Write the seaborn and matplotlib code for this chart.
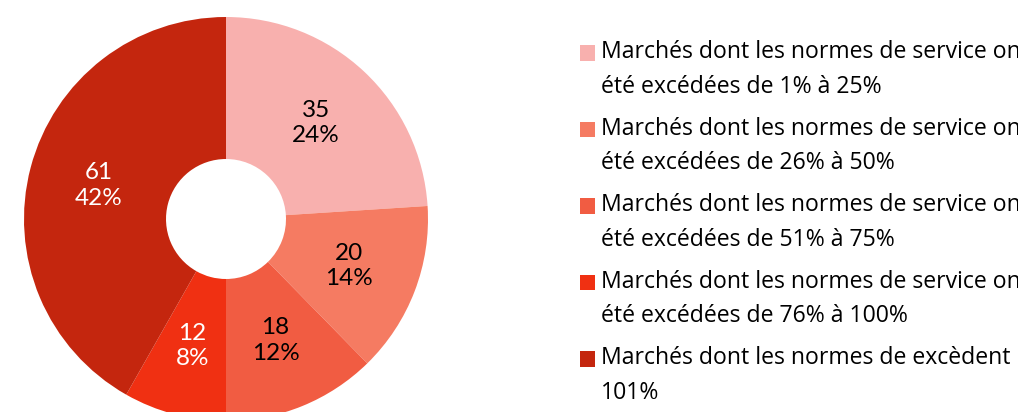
import matplotlib
matplotlib.use("Agg")
import matplotlib.pyplot as plt
import matplotlib.patches as mpatches
from matplotlib.legend_handler import HandlerPatch
from matplotlib.transforms import Bbox
import seaborn as sns

counts = [35, 20, 18, 12, 61]
labels = [
    "Marchés dont les normes de service ont\nété excédées de 1% à 25%",
    "Marchés dont les normes de service ont\nété excédées de 26% à 50%",
    "Marchés dont les normes de service ont\nété excédées de 51% à 75%",
    "Marchés dont les normes de service ont\nété excédées de 76% à 100%",
    "Marchés dont les normes de excèdent\n101%",
]
colors = ["#F8B0AE", "#F57B62", "#F15C42", "#F03012", "#C4260E"]
text_colors = ["black", "black", "black", "white", "white"]

sns.set_theme(style="white")
plt.rcParams["font.family"] = ["Lato", "DejaVu Sans"]

W, H = 1035, 412
fig = plt.figure(figsize=(W / 100, H / 100), dpi=100)

# square axes: centre at (226, 219) px, radius 202 px
r = 202
cx, cy = 226, 219
ax = fig.add_axes([(cx - r) / W, (H - cy - r) / H, 2 * r / W, 2 * r / H])

total = sum(counts)
wedges, _, autotexts = ax.pie(
    counts,
    colors=colors,
    startangle=90,
    counterclock=False,
    radius=1,
    autopct=lambda p: f"{round(p * total / 100)}\n{p:.0f}%",
    pctdistance=0.65,
    wedgeprops=dict(width=0.703, linewidth=0),
    textprops=dict(fontsize=17.5, linespacing=1.25),
)
for t, c in zip(autotexts, text_colors):
    t.set_color(c)

ax.set_xlim(-1, 1)
ax.set_ylim(-1, 1)
ax.set_aspect("equal")
ax.axis("off")


# legend square sits level with the first text line, not the middle
def top_square(legend, orig_handle, xdescent, ydescent, width, height, fontsize):
    return mpatches.Rectangle((-xdescent, -ydescent + 12.5), width, height)


leg = fig.legend(
    wedges, labels,
    loc="upper left",
    bbox_to_anchor=(580 / W, 1 - 40 / H),
    frameon=False,
    prop=dict(family=["Open Sans", "DejaVu Sans"], size=16.6),
    handlelength=0.65,
    handleheight=0.65,
    handletextpad=0.25,
    labelspacing=0.77,
    borderpad=0,
    borderaxespad=0,
    handler_map={mpatches.Wedge: HandlerPatch(patch_func=top_square)},
)
# the original chart area cuts the long lines just after "on"
clip = Bbox.from_extents(0, 0, 1018, H)
for t in leg.get_texts():
    t.set_linespacing(1.6)
    t.set_color("black")
    t.set_clip_box(clip)
    t.set_clip_on(True)

fig.savefig("out.png", dpi=100)
